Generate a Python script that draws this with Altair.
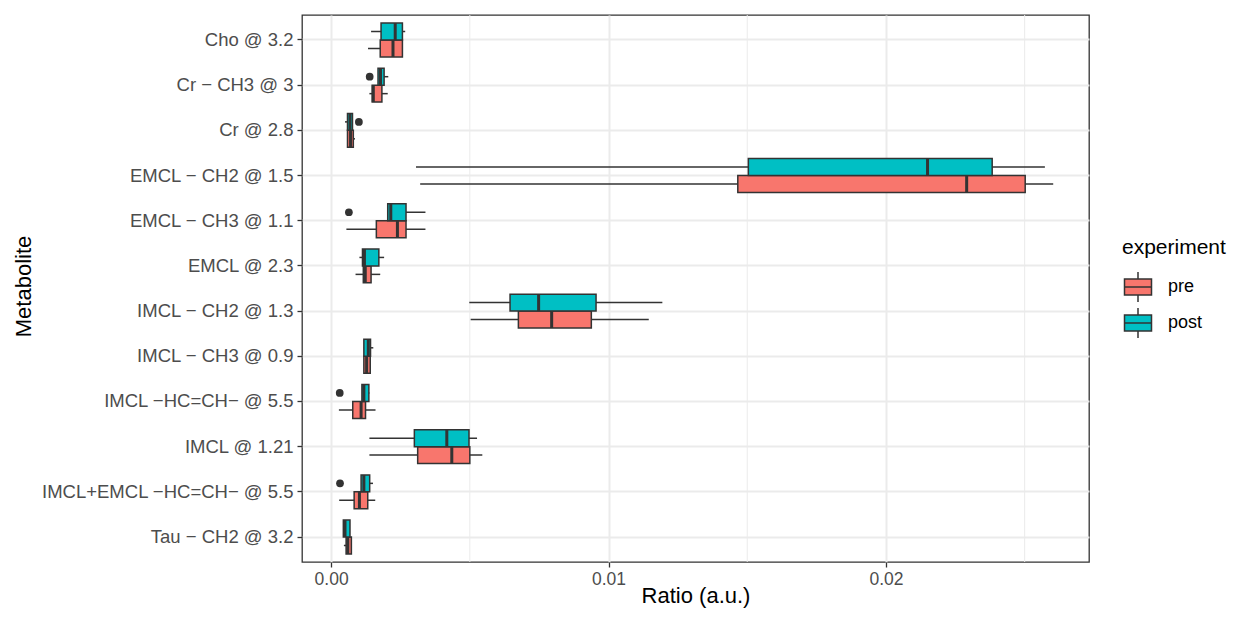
import altair as alt
import pandas as pd

categories = [
    "Cho @ 3.2", "Cr − CH3 @ 3", "Cr @ 2.8", "EMCL − CH2 @ 1.5",
    "EMCL − CH3 @ 1.1", "EMCL @ 2.3", "IMCL − CH2 @ 1.3", "IMCL − CH3 @ 0.9",
    "IMCL −HC=CH− @ 5.5", "IMCL @ 1.21", "IMCL+EMCL −HC=CH− @ 5.5", "Tau − CH2 @ 3.2",
]

# box statistics (whisker low, Q1, median, Q3, whisker high)
pre_lo  = [0.00133, 0.00138, 0.00059, 0.00321, 0.00055, 0.00088, 0.00503, 0.00118, 0.00028, 0.00138, 0.00029, 0.00046]
pre_q1  = [0.00177, 0.00148, 0.00059, 0.01466, 0.00163, 0.00116, 0.00675, 0.00118, 0.00078, 0.00312, 0.00083, 0.00054]
pre_med = [0.00223, 0.00152, 0.00070, 0.02291, 0.00239, 0.00123, 0.00795, 0.00128, 0.00108, 0.00435, 0.00102, 0.00060]
pre_q3  = [0.00257, 0.00183, 0.00080, 0.02502, 0.00270, 0.00144, 0.00938, 0.00141, 0.00124, 0.00500, 0.00132, 0.00073]
pre_hi  = [0.00259, 0.00204, 0.00086, 0.02603, 0.00340, 0.00177, 0.01145, 0.00141, 0.00160, 0.00545, 0.00159, 0.00073]

post_lo  = [0.00144, 0.00169, 0.00050, 0.00306, 0.00204, 0.00102, 0.00498, 0.00118, 0.00111, 0.00138, 0.00108, 0.00044]
post_q1  = [0.00180, 0.00169, 0.00059, 0.01504, 0.00204, 0.00113, 0.00645, 0.00118, 0.00111, 0.00300, 0.00108, 0.00044]
post_med = [0.00231, 0.00178, 0.00068, 0.02150, 0.00215, 0.00120, 0.00748, 0.00134, 0.00118, 0.00417, 0.00118, 0.00050]
post_q3  = [0.00257, 0.00191, 0.00077, 0.02383, 0.00270, 0.00172, 0.00955, 0.00142, 0.00136, 0.00497, 0.00139, 0.00068]
post_hi  = [0.00267, 0.00206, 0.00077, 0.02573, 0.00340, 0.00191, 0.01194, 0.00152, 0.00138, 0.00526, 0.00151, 0.00068]

outlier_cat = ["Cr − CH3 @ 3", "Cr @ 2.8", "EMCL − CH3 @ 1.1", "IMCL −HC=CH− @ 5.5", "IMCL+EMCL −HC=CH− @ 5.5"]
outlier_exp = ["post", "post", "post", "post", "post"]
outlier_val = [0.00139, 0.00100, 0.00064, 0.00031, 0.00032]

minor_grid = [0.005, 0.015, 0.025]
x_ticks = [0.0, 0.01, 0.02]

rows = []
for exp, lo, q1, med, q3, hi in [("pre", pre_lo, pre_q1, pre_med, pre_q3, pre_hi),
                                 ("post", post_lo, post_q1, post_med, post_q3, post_hi)]:
    for i, c in enumerate(categories):
        rows.append(dict(Metabolite=c, experiment=exp, lo=lo[i], q1=q1[i], med=med[i], q3=q3[i], hi=hi[i]))
df = pd.DataFrame(rows)
df_out = pd.DataFrame(dict(Metabolite=outlier_cat, experiment=outlier_exp, val=outlier_val))
df_grid = pd.DataFrame(dict(v=minor_grid))

FONT = "Liberation Sans"
xscale = alt.Scale(domain=[-0.00105, 0.02732], nice=False, zero=False)
xaxis = alt.Axis(values=x_ticks, format=".2f", grid=True, gridColor="#EBEBEB", gridWidth=2,
                 tickColor="#333333", tickSize=5, tickWidth=1.3, domain=False,
                 labelColor="#4D4D4D", labelFontSize=17.5, labelFont=FONT, labelPadding=3,
                 titleFontSize=22, titleFont=FONT, titleColor="#000000", titleFontWeight="normal",
                 titleBaseline="alphabetic", titleY=40, titleX=393.5, titleAlign="center")
yaxis = alt.Axis(grid=True, gridColor="#EBEBEB", gridWidth=2, bandPosition=0.5,
                 tickColor="#333333", tickSize=5, tickWidth=1.3, domain=False,
                 labelColor="#4D4D4D", labelFontSize=18.5, labelFont=FONT, labelPadding=4,
                 labelLimit=0,
                 titleFontSize=22, titleFont=FONT, titleColor="#000000", titleFontWeight="normal",
                 titleX=-272, titleY=271, titleAngle=270, titleBaseline="alphabetic",
                 titleAlign="center")
yenc = alt.Y("Metabolite:N", sort=categories, title="Metabolite",
             scale=alt.Scale(domain=categories, paddingInner=0.25, paddingOuter=0.178), axis=yaxis)
yoff = alt.YOffset("experiment:N", sort=["post", "pre"],
                   scale=alt.Scale(domain=["post", "pre"], paddingInner=0, paddingOuter=0))

def X(f):
    return alt.X(f, scale=xscale, axis=xaxis, title="Ratio (a.u.)")

legend_path = ("M-0.9,-0.53H0.9V0.53H-0.9Z M-0.9,0H0.9 M0,-0.53V-1 M0,0.53V1")

grid = alt.Chart(df_grid).mark_rule(color="#EBEBEB", strokeWidth=1).encode(x=X("v:Q"))

whisk = alt.Chart(df).mark_rule(color="#333333", strokeWidth=1.5).encode(
    x=X("lo:Q"), x2="hi:Q", y=yenc, yOffset=yoff)

boxes = alt.Chart(df).mark_bar(stroke="#333333", strokeWidth=1.5, opacity=1).encode(
    x=X("q1:Q"), x2="q3:Q", y=yenc, yOffset=yoff,
    fill=alt.Fill("experiment:N",
                  scale=alt.Scale(domain=["pre", "post"], range=["#F8766D", "#00BFC4"]),
                  legend=alt.Legend(title="experiment", orient="none", legendX=820, legendY=222,
                                    symbolType=legend_path, symbolSize=900,
                                    symbolStrokeColor="#333333", symbolStrokeWidth=1.5,
                                    symbolOpacity=1, labelFontSize=18, labelFont=FONT,
                                    labelColor="#000000", labelOffset=14, rowPadding=0,
                                    labelLimit=0, titleLimit=0,
                                    titleFontSize=21, titleFont=FONT, titleColor="#000000",
                                    titleFontWeight="normal", titlePadding=13)))

medians = alt.Chart(df).mark_bar(stroke="#333333", strokeWidth=3, fill="#333333").encode(
    x=X("med:Q"), x2="med:Q", y=yenc, yOffset=yoff)

outl = alt.Chart(df_out).mark_circle(size=60, color="#333333", opacity=1).encode(
    x=X("val:Q"), y=yenc, yOffset=yoff)

chart = alt.layer(grid, whisk, boxes, medians, outl).properties(
    width=787, height=547,
    autosize=alt.AutoSizeParams(type="none"),
    padding={"left": 294, "top": 7, "right": 138, "bottom": 47},
    background="white",
).configure_view(stroke="#333333", strokeWidth=1.3)

chart.save("out.html", embed_options={"renderer": "svg", "actions": False})
